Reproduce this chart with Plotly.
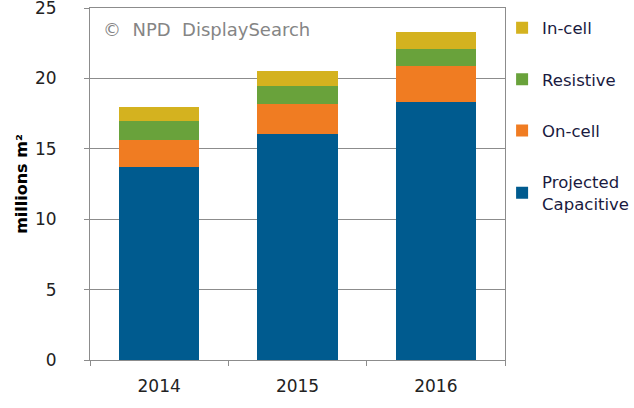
import plotly.graph_objects as go

years = ["2014", "2015", "2016"]
projected_capacitive = [13.73, 16.03, 18.35]
on_cell = [1.89, 2.13, 2.53]
resistive = [1.33, 1.30, 1.21]
in_cell = [1.00, 1.09, 1.21]

series = [
    ("Projected<br>Capacitive", projected_capacitive, "#005B8F"),
    ("On-cell", on_cell, "#F07C22"),
    ("Resistive", resistive, "#69A23B"),
    ("In-cell", in_cell, "#D4B21F"),
]

fig = go.Figure()
for i, (name, vals, color) in enumerate(series):
    fig.add_trace(go.Bar(
        x=years, y=vals, name=name, marker=dict(color=color, line=dict(width=0)),
        legendgroup=f"g{i}", legendrank=1000 - i,
    ))

fig.update_layout(
    barmode="stack",
    bargap=0.42,
    width=634, height=408,
    margin=dict(l=90, r=129, t=8, b=48, autoexpand=False),
    plot_bgcolor="white", paper_bgcolor="white",
    font=dict(family="DejaVu Sans", size=17, color="#000000"),
    legend=dict(
        x=0.993, xanchor="left", y=0.993, yanchor="top",
        traceorder="grouped", tracegroupgap=27,
        font=dict(size=16.5, color="#1a1a40"),
        itemwidth=30, bgcolor="rgba(0,0,0,0)",
    ),
    showlegend=True,
    annotations=[dict(
        text="©  NPD  DisplaySearch", xref="paper", yref="paper",
        x=0.026, y=0.938, xanchor="left", yanchor="middle", showarrow=False,
        font=dict(size=18, color="#858585"),
    )],
)
fig.update_yaxes(
    range=[0, 25], dtick=5, showgrid=True, gridcolor="#8c8c8c", gridwidth=1,
    showline=True, linecolor="#8c8c8c", mirror=True,
    ticks="outside", ticklen=5, tickcolor="#8c8c8c",
    tickfont=dict(size=17, color="#222222"), ticklabelstandoff=24,
    ticklabeloverflow="allow",
    title=dict(text="<b>millions m²</b>", font=dict(size=16), standoff=3),
    zeroline=False, automargin=False,
)
fig.update_xaxes(
    showline=True, linecolor="#8c8c8c", mirror=True,
    ticks="outside", ticklen=5, tickcolor="#8c8c8c", tickson="boundaries",
    tickfont=dict(size=17, color="#222222"), ticklabelstandoff=11,
    automargin=False,
)

# remove the default 8px page margin so the figure fills the window exactly
fig.write_html(
    "out.html",
    config={"displayModeBar": False},
    post_script="document.body.style.margin='0px';",
)
